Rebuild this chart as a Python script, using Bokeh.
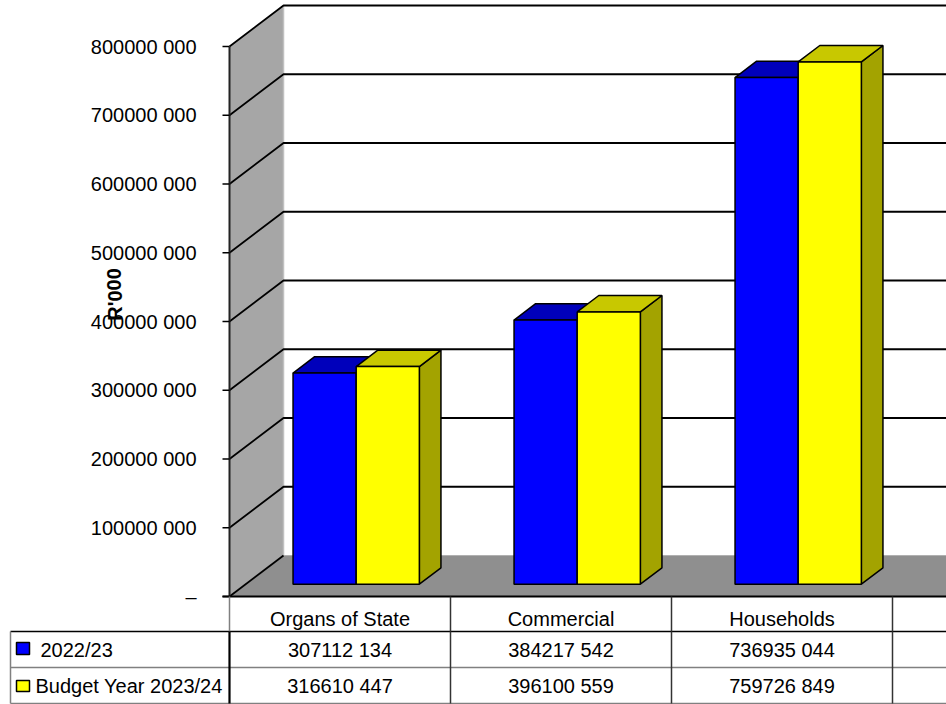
from bokeh.plotting import figure
from bokeh.models import Range1d
from bokeh.core.properties import value
from bokeh.embed import file_html
from bokeh.resources import INLINE

# ---------------- data ----------------
categories = ["Organs of State", "Commercial", "Households"]
series_names = ["2022/23", "Budget Year 2023/24"]
values_2022 = [307112134, 384217542, 736935044]
values_2023 = [316610447, 396100559, 759726849]
tick_values = [0, 100000000, 200000000, 300000000, 400000000,
               500000000, 600000000, 700000000, 800000000]
y_label = "R'000"

# ---------------- layout constants ----------------
W, H = 946, 704
CAT_PX = 221.0            # pixels per category
X0_PX = 229.0             # pixel x of category 0 left edge (front wall)
Y0_PX = 596.0             # pixel y of value 0 (front)
PX_PER_UNIT = 68.75 / 1e8  # pixels per value unit

def X(px):
    return (px - X0_PX) / CAT_PX

def Y(py):
    return (Y0_PX - py) / PX_PER_UNIT

DX = 54.0 / CAT_PX                 # full depth in category units
DY = 41.0 / 68.75 * 1e8            # full depth in value units
F0, F1 = 0.3, 0.7                  # depth fractions of bars
BW = 63.15 / CAT_PX                # bar width in category units
XEND = X(W + 10)

FONT = value("Liberation Sans")
FS = "20px"

p = figure(width=W, height=H, output_backend="svg", toolbar_location=None,
           x_range=Range1d(X(0), X(W)), y_range=Range1d(Y(H), Y(0)),
           min_border=0, min_border_left=0, min_border_right=0,
           min_border_top=0, min_border_bottom=0)
p.axis.visible = False
p.grid.visible = False
p.outline_line_color = None
p.background_fill_color = "white"
p.border_fill_color = "white"

top_v = tick_values[-1]

# left wall
p.patch([0, DX, DX, 0], [top_v, top_v + DY, DY, 0],
        fill_color="#a6a6a6", line_color=None)
# back wall left edge
p.line([DX, DX], [DY, top_v + DY], line_color="#c0c0c0", line_width=1.5)
# floor
p.patch([0, DX, XEND, XEND], [0, DY, DY, 0],
        fill_color="#8f8f8f", line_color=None)
p.line([DX, XEND], [DY, DY], line_color="#b0b0b0", line_width=1)

# gridlines (left wall diagonal + back wall horizontal)
gx, gy = [], []
for v in tick_values:
    if v == 0:
        gx.append([0, DX]); gy.append([v, v + DY])
    else:
        gx.append([0, DX, XEND]); gy.append([v, v + DY, v + DY])
p.multi_line(gx, gy, line_color="black", line_width=1.8)

# front wall edge and tick marks
p.line([0, 0], [0, top_v], line_color="#222222", line_width=2)
p.multi_line([[X(222), 0] for _ in tick_values], [[v, v] for v in tick_values],
             line_color="black", line_width=1.5)

# tick labels
def fmt(v):
    if v == 0:
        return "\u2013"
    return f"{v // 1000} {v % 1000:03d}"

p.text(x=[X(196)] * len(tick_values), y=tick_values,
       text=[fmt(v) for v in tick_values],
       text_font=FONT, text_font_size=FS, text_align="right",
       text_baseline="middle", text_color="black")

# y label
p.text(x=[X(114)], y=[Y(294)], text=[y_label], angle=1.5708,
       text_font=FONT, text_font_size=FS, text_font_style="bold",
       text_align="center", text_baseline="middle", text_color="black")

# ---------------- bars ----------------
series = [
    (values_2022, "#0000ff", "#0000bb", "#000099"),
    (values_2023, "#ffff00", "#c8c800", "#a3a300"),
]
ox0, oy0 = F0 * DX, F0 * DY
ddx, ddy = (F1 - F0) * DX, (F1 - F0) * DY
for ci, cat in enumerate(categories):
    for k, (vals, cfront, ctop, cside) in enumerate(series):
        v = vals[ci]
        L = ci + 0.5 - BW + k * BW + ox0
        R = L + BW
        B = oy0
        T = v + oy0
        # side
        p.patch([R, R + ddx, R + ddx, R], [B, B + ddy, T + ddy, T],
                fill_color=cside, line_color="black", line_width=1.5)
        # top
        p.patch([L, R, R + ddx, L + ddx], [T, T, T + ddy, T + ddy],
                fill_color=ctop, line_color="black", line_width=1.5)
        # front
        p.patch([L, R, R, L], [B, B, T, T],
                fill_color=cfront, line_color="black", line_width=1.5)

# floor front edge / table top
p.line([X(222), XEND], [0, 0], line_color="black", line_width=2)

# ---------------- data table ----------------
row_h = [Y(631), Y(667), Y(703)]
# horizontal lines
p.line([X(10), XEND], [row_h[0], row_h[0]], line_color="black", line_width=1.5)
p.line([X(10), XEND], [row_h[1], row_h[1]], line_color="#808080", line_width=1.5)
p.line([X(10), XEND], [row_h[2], row_h[2]], line_color="#808080", line_width=1.5)
# left border
p.line([X(10), X(10)], [row_h[0], row_h[2]], line_color="#808080", line_width=1.5)
# vertical column lines
ncols = len(categories) + 1
for c in range(ncols + 1):
    strong = c in (0, ncols)
    p.line([c, c], [0, row_h[0]], line_color="#808080" if strong else "#333333",
           line_width=1.5)
    p.line([c, c], [row_h[0], row_h[2]], line_color="black" if strong else "#333333",
           line_width=2.2 if strong else 1.5)

# header labels
p.text(x=[i + 0.5 for i in range(len(categories))], y=[Y(618)] * len(categories),
       text=categories, text_font=FONT, text_font_size=FS,
       text_align="center", text_baseline="middle", text_color="black")

def fmt_val(v):
    return f"{v // 1000} {v % 1000:03d}"

row_centres = [Y(649), Y(685)]
for r, (vals, cfront, _, _) in enumerate(series):
    p.text(x=[i + 0.5 for i in range(len(categories))], y=[row_centres[r]] * len(categories),
           text=[fmt_val(v) for v in vals], text_font=FONT, text_font_size=FS,
           text_align="center", text_baseline="middle", text_color="black")

# legend swatches and names
sw_y = [(Y(642), Y(654)), (Y(680), Y(691))]
name_x = [X(40), X(35)]
for r, (vals, cfront, _, _) in enumerate(series):
    y1, y2 = sw_y[r]
    p.patch([X(16), X(29), X(29), X(16)], [y1, y1, y2, y2],
            fill_color=cfront, line_color="black", line_width=1.5)
    p.text(x=[name_x[r]], y=[row_centres[r]], text=[series_names[r]],
           text_font=FONT, text_font_size=FS, text_align="left",
           text_baseline="middle", text_color="black")

open("out.html", "w").write(file_html(p, INLINE))
